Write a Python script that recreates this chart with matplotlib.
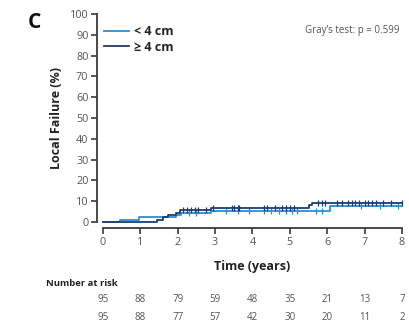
import numpy as np
import matplotlib
matplotlib.use("Agg")
import matplotlib.pyplot as plt

plt.rcParams.update({
    "font.family": ["Open Sans", "DejaVu Sans"],
    "font.size": 7,
})

# cumulative incidence of local failure, step times (years) and values (%)
small_times = [0, 0.45, 0.97, 1.95, 2.1, 2.9, 6.08, 8.0]
small_values = [0, 1.1, 2.2, 3.3, 4.4, 5.3, 7.8, 7.8]
small_censor = [2.3, 2.5, 3.3, 3.6, 3.9, 4.3, 4.5, 4.7, 4.9, 5.05, 5.2,
                5.7, 5.85, 6.9, 7.4, 7.9]

large_times = [0, 1.45, 1.6, 1.75, 1.95, 2.05, 2.9, 5.5, 5.6, 8.0]
large_values = [0, 1.1, 2.2, 3.3, 4.4, 5.7, 6.9, 8.1, 9.3, 9.3]
large_censor = [2.15, 2.25, 2.35, 2.45, 2.55, 2.75, 2.95, 3.45, 3.5, 3.6,
                3.65, 4.3, 4.4, 4.6, 4.8, 4.9, 5.0, 5.1, 5.75, 5.85, 5.95,
                6.25, 6.4, 6.55, 6.65, 6.75, 6.85, 7.0, 7.1, 7.2, 7.3, 7.5,
                7.7, 8.0]

risk_years = [0, 1, 2, 3, 4, 5, 6, 7, 8]
risk_small = [95, 88, 79, 59, 48, 35, 21, 13, 7]
risk_large = [95, 88, 77, 57, 42, 30, 20, 11, 2]

col_small = "#2b8fd3"
col_large = "#1f3b73"
axis_col = "#3a3a3a"
text_col = "#555555"


def step_value(times, values, t):
    idx = np.searchsorted(times, t, side="right") - 1
    return values[idx]


fig = plt.figure(figsize=(4.1, 3.24), dpi=100)
ax = fig.add_axes([103 / 410, 1 - 222 / 324, 299 / 410, 208 / 324])

ax.step(small_times, small_values, where="post", color=col_small, lw=1.3,
        clip_on=False, zorder=3)
ax.step(large_times, large_values, where="post", color=col_large, lw=1.3,
        clip_on=False, zorder=4)

ax.plot(small_censor, [step_value(small_times, small_values, t) for t in small_censor],
        ls="none", marker="|", ms=4.5, mew=0.9, color=col_small, clip_on=False, zorder=3)
ax.plot(large_censor, [step_value(large_times, large_values, t) for t in large_censor],
        ls="none", marker="|", ms=4.5, mew=0.9, color=col_large, clip_on=False, zorder=4)

ax.set_xlim(0, 8)
ax.set_ylim(0, 100)
ax.set_xticks(range(0, 9))
ax.set_yticks(range(0, 101, 10))

for side in ["top", "right"]:
    ax.spines[side].set_visible(False)
for side in ["left", "bottom"]:
    ax.spines[side].set_position(("outward", 4.5))
    ax.spines[side].set_color(axis_col)
    ax.spines[side].set_linewidth(1.3)
ax.tick_params(axis="both", direction="out", length=4, width=1.2, color=axis_col,
               labelcolor=text_col, labelsize=7.8, pad=2)

ax.set_xlabel("Time (years)", fontweight="bold", fontsize=9, color="#222222", labelpad=9)
ax.set_ylabel("Local Failure (%)", fontweight="bold", fontsize=9, color="#222222", labelpad=5)

ax.plot([], [], color=col_small, lw=1.3, label="< 4 cm")
ax.plot([], [], color=col_large, lw=1.3, label="\u2265 4 cm")
handles, labels = ax.get_legend_handles_labels()
leg = ax.legend(handles[-2:], labels[-2:], loc="upper left", bbox_to_anchor=(-0.035, 1.0),
                frameon=False, handlelength=2.0, handletextpad=0.4, labelspacing=0.2,
                prop={"weight": "bold", "size": 9})
for t in leg.get_texts():
    t.set_color("#222222")

ax.text(0.99, 0.92, "Gray\u2019s test: p = 0.599", transform=ax.transAxes,
        ha="right", va="center", fontsize=7, color=text_col)

fig.text(34 / 410, 1 - 22 / 324, "C", fontsize=15, fontweight="bold",
         ha="center", va="center", color="#111111")

# number at risk table
fig.text(46 / 410, 1 - 283 / 324, "Number at risk", fontsize=6.8, fontweight="bold",
         ha="left", va="center", color="#222222")
for yr, a, b in zip(risk_years, risk_small, risk_large):
    xf = ax.transData.transform((yr, 0))[0] / fig.bbox.width
    fig.text(xf, 1 - 300 / 324, str(a), fontsize=7, ha="center", va="center", color=text_col)
    fig.text(xf, 1 - 318 / 324, str(b), fontsize=7, ha="center", va="center", color=text_col)

fig.savefig("out.png", dpi=100)
